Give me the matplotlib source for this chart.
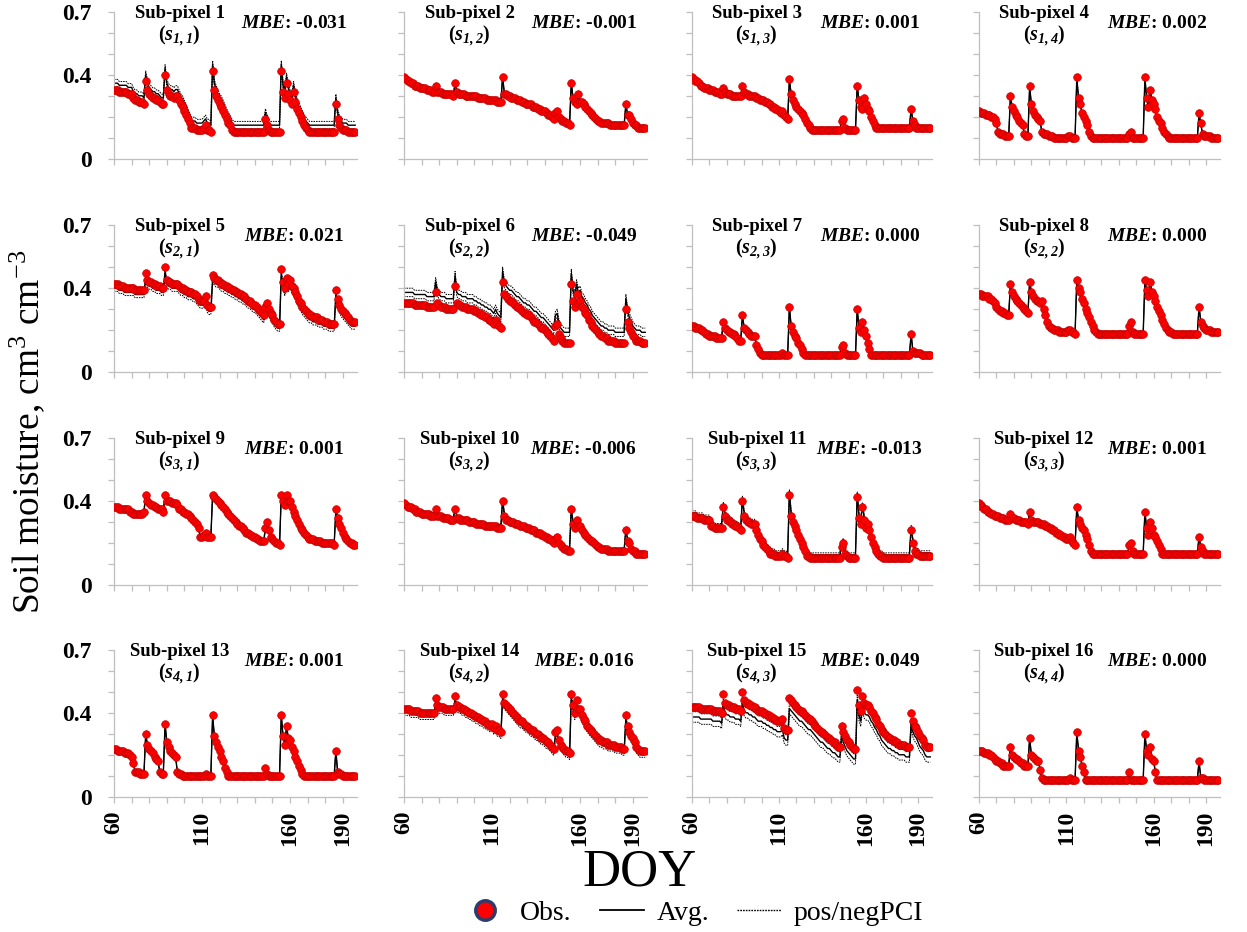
import numpy as np
import matplotlib
matplotlib.use("Agg")
import matplotlib.pyplot as plt
from matplotlib.lines import Line2D

plt.rcParams['font.family'] = ['Liberation Serif', 'DejaVu Serif']
plt.rcParams['mathtext.fontset'] = 'custom'
plt.rcParams['mathtext.rm'] = 'Liberation Serif'
plt.rcParams['mathtext.it'] = 'Liberation Serif:italic'
plt.rcParams['mathtext.bf'] = 'Liberation Serif:bold'
plt.rcParams['mathtext.bfit'] = 'Liberation Serif:italic:bold'

# ---------------- data (soil moisture, in units of 0.01 cm3 cm-3, daily from DOY 60) -------------
FIRST_DOY = 60

obs_01 = ([33, 33, 33, 32, 32, 32, 32, 32, 31, 31, 31] + [29, 28, 28, 27, 27, 27, 26] + [37] +
          [33, 31, 30, 29, 29, 28, 28, 27, 26, 26] + [40] + [33, 31, 30, 30, 29, 30, 30] +
          [28, 26, 25, 23, 21, 19, 17, 15, 15, 15, 14, 14, 14, 14, 15] + [16, 14, 14, 13] + [42] +
          [33, 30, 28, 26, 25, 23, 21, 19, 17, 16, 14, 13] + [13] * 17 + [19, 16, 14] + [13] * 6 + [42] +
          [32, 29, 36, 31, 28, 26, 32, 27] + [24, 22, 20, 18, 16, 15, 14, 13] + [13] * 14 + [26] +
          [19, 16, 15, 14, 14, 14, 13, 13, 13, 13, 13])
obs_02 = ([39, 38, 37, 37, 36, 36, 35, 35, 35, 34, 34] + [34, 34, 33, 33, 33, 32, 32] + [35] +
          [32, 32, 32, 31, 31, 31, 31, 31, 31, 30] + [36] + [32, 31, 31, 31, 31, 30, 30] +
          [30, 30, 30, 30, 30, 29, 29, 29, 29, 29, 28, 28, 28, 28, 28] + [28, 27, 27, 27] + [39] +
          [31, 31, 30, 30, 29, 29, 29, 28, 28, 28, 27, 27] +
          [26, 26, 26, 26, 25, 25, 25, 24, 24, 23, 23, 23, 22, 21, 21, 20, 19] + [22, 23, 20] +
          [19, 18, 18, 17, 17, 16] + [36] + [29, 27, 26, 31, 27, 27, 26, 25] + [24, 23, 22, 21, 20, 19, 18, 18] +
          [17, 17, 17, 17, 17, 16, 16, 16, 16, 16, 16, 16, 16, 16] + [26] + [21, 21, 19, 17, 16, 16, 15, 15, 15, 15, 15])
obs_03 = ([39, 38, 37, 37, 36, 35, 35, 34, 34, 34, 33] + [33, 33, 32, 32, 32, 31, 31] + [34] +
          [32, 31, 31, 31, 30, 30, 30, 30, 30, 30] + [35] + [32, 31, 31, 30, 30, 30, 30] +
          [29, 29, 28, 28, 28, 27, 27, 26, 26, 25, 25, 24, 24, 23, 22] + [23, 21, 20, 19] + [38] +
          [31, 28, 26, 25, 24, 23, 22, 21, 19, 17, 16, 15] + [14] * 17 + [18, 19, 15] + [14] * 6 + [35] +
          [28, 25, 24, 29, 26, 24, 23, 20] + [18, 16, 15, 15, 15, 15, 15, 15] + [15] * 14 + [24] +
          [18, 16, 15, 15, 15, 15, 15, 15, 15, 15, 15])
obs_04 = ([23, 22, 22, 22, 21, 21, 21, 20, 20, 19, 17] + [13, 12, 12, 12, 11, 11, 11] + [30] +
          [25, 23, 21, 20, 18, 17, 16, 12, 11, 11] + [35] + [26, 23, 21, 20, 19, 18, 13] +
          [12, 12, 12, 11, 11, 11, 10, 10, 10, 10, 10, 10, 10, 10, 11] + [11, 10, 10, 10] + [39] +
          [29, 26, 22, 20, 18, 16, 13, 11, 10, 10, 10, 10] + [10] * 17 + [12, 13, 10] + [10] * 6 + [39] +
          [29, 25, 33, 28, 26, 24, 20, 18] + [17, 15, 13, 12, 11, 10, 10, 10] + [10] * 14 + [22] +
          [17, 12, 11, 11, 11, 11, 10, 10, 10, 10, 10])
obs_05 = ([42, 42, 42, 41, 41, 41, 40, 40, 40, 40, 40] + [40, 39, 39, 39, 39, 39, 39] + [47] +
          [44, 43, 43, 42, 42, 41, 41, 41, 40, 40] + [50] + [44, 43, 43, 42, 42, 42, 42] +
          [41, 40, 40, 39, 39, 38, 38, 38, 37, 37, 36, 35, 34, 34, 34] + [36, 32, 31, 31] + [46] +
          [45, 44, 44, 43, 42, 42, 41, 41, 40, 40, 39, 39] +
          [38, 38, 37, 37, 36, 36, 35, 34, 34, 33, 32, 32, 31, 30, 29, 28, 27] + [31, 33, 30] +
          [28, 27, 25, 24, 23, 23] + [49] + [43, 40, 45, 42, 44, 41, 40, 38] + [36, 34, 33, 31, 30, 29, 28, 27] +
          [27, 26, 26, 26, 25, 25, 25, 24, 24, 24, 23, 23, 23, 23] + [39] + [35, 32, 30, 29, 28, 27, 26, 25, 24, 24, 24])
obs_06 = ([33, 33, 33, 33, 33, 33, 32, 32, 32, 32, 32] + [32, 32, 31, 31, 31, 31, 31] + [38] +
          [33, 32, 31, 31, 31, 30, 30, 30, 30, 30] + [41] + [33, 32, 32, 31, 31, 31, 30] +
          [30, 30, 30, 29, 29, 28, 28, 27, 27, 26, 26, 25, 25, 24, 23] + [25, 23, 22, 21] + [43] +
          [37, 36, 35, 34, 34, 33, 32, 31, 31, 30, 29, 28] +
          [28, 27, 27, 26, 25, 24, 24, 23, 22, 21, 21, 20, 19, 18, 17, 16, 15] + [22, 23, 18] +
          [16, 15, 14, 14, 14, 14] + [42] + [34, 31, 37, 33, 34, 31, 30, 28] + [27, 25, 24, 22, 21, 20, 19, 18] +
          [17, 17, 16, 16, 15, 15, 15, 15, 14, 14, 14, 14, 14, 14] + [30] + [24, 21, 19, 17, 16, 15, 15, 15, 14, 14, 14])
obs_07 = ([22, 22, 21, 21, 21, 20, 20, 19, 18, 18, 17] + [17, 17, 17, 16, 16, 16, 16] + [24] +
          [21, 20, 19, 19, 18, 18, 17, 16, 15, 15] + [27] + [21, 20, 19, 18, 17, 17, 17] +
          [13, 11, 9, 8, 8, 8, 8, 8, 8, 8, 8, 8, 8, 8, 8] + [9, 8, 8, 8] + [31] +
          [22, 19, 17, 16, 14, 13, 11, 9, 8, 8, 8, 8] + [8] * 17 + [12, 13, 9] + [8] * 6 + [30] +
          [21, 19, 24, 20, 17, 14, 11, 8] + [8] * 8 + [8] * 14 + [18] + [10, 9, 9, 9, 9, 8, 8, 8, 8, 8, 8])
obs_08 = ([37, 37, 36, 36, 36, 36, 35, 35, 34, 33, 31] + [30, 29, 29, 28, 28, 27, 27] + [42] +
          [38, 36, 35, 34, 33, 32, 31, 30, 29, 28] + [43] + [38, 36, 35, 34, 34, 33, 34] +
          [30, 27, 24, 22, 21, 21, 20, 20, 20, 19, 19, 19, 19, 19, 20] + [20, 19, 19, 18] + [44] +
          [40, 38, 35, 33, 30, 28, 26, 24, 22, 20, 19, 18] + [18] * 17 + [22, 24, 19] + [18] * 6 + [44] +
          [39, 36, 43, 38, 36, 34, 31, 29] + [27, 25, 23, 21, 20, 19, 19, 18] + [18] * 14 + [31] +
          [24, 22, 21, 20, 20, 20, 19, 19, 19, 19, 19])
obs_09 = ([37, 37, 37, 36, 36, 36, 36, 36, 36, 35, 35] + [34, 34, 34, 34, 34, 34, 35] + [43] +
          [40, 39, 38, 38, 37, 37, 36, 36, 36, 35] + [43] + [40, 40, 40, 39, 39, 39, 38] +
          [36, 36, 35, 35, 34, 34, 33, 32, 31, 30, 29, 27, 23, 23, 24] + [25, 23, 23, 23] + [43] +
          [42, 41, 40, 39, 38, 37, 36, 35, 34, 33, 32, 31] +
          [30, 29, 28, 28, 27, 26, 25, 25, 24, 24, 23, 23, 22, 22, 21, 21, 21] + [27, 30, 26] +
          [23, 22, 21, 20, 20, 19] + [43] + [40, 38, 43, 40, 40, 37, 35, 33] + [31, 29, 27, 26, 25, 24, 23, 22] +
          [22, 22, 21, 21, 21, 21, 20, 20, 20, 20, 20, 20, 20, 19] + [36] + [32, 29, 27, 25, 23, 22, 21, 20, 20, 19, 19])
obs_10 = ([39, 38, 37, 37, 37, 36, 36, 35, 35, 35, 34] + [34, 34, 34, 34, 33, 33, 33] + [36] +
          [33, 33, 33, 32, 32, 32, 32, 31, 31, 31] + [36] + [32, 32, 31, 31, 31, 31, 31] +
          [30, 30, 30, 30, 29, 29, 29, 29, 29, 28, 28, 28, 28, 28, 28] + [28, 27, 27, 27] + [40] +
          [33, 31, 31, 30, 30, 30, 29, 29, 29, 28, 28, 28] +
          [27, 27, 27, 26, 26, 26, 25, 25, 25, 24, 24, 23, 23, 22, 22, 21, 20] + [22, 23, 20] +
          [19, 18, 17, 17, 16, 16] + [36] + [29, 27, 31, 28, 28, 26, 25, 24] + [23, 22, 21, 21, 20, 19, 18, 18] +
          [17, 17, 17, 17, 16, 16, 16, 16, 16, 16, 16, 16, 16, 16] + [26] + [21, 20, 17, 16, 16, 15, 15, 15, 15, 15, 15])
obs_11 = ([33, 33, 33, 32, 32, 32, 32, 31, 31, 31, 31] + [28, 28, 27, 27, 27, 27, 27] + [37] +
          [33, 31, 31, 30, 29, 29, 28, 28, 27, 26] + [40] + [33, 31, 30, 30, 29, 29, 29] +
          [26, 24, 22, 21, 19, 18, 17, 16, 15, 15, 15, 14, 14, 14, 14] + [15, 14, 14, 13] + [43] +
          [33, 30, 28, 26, 24, 22, 20, 18, 16, 14, 14, 13] + [13] * 17 + [18, 20, 15] + [14, 13, 13, 13, 13, 13] +
          [42] + [32, 29, 37, 31, 27, 29, 26, 23] + [20, 18, 16, 15, 14, 14, 13, 13] + [13] * 14 + [26] +
          [20, 16, 15, 15, 14, 14, 14, 14, 14, 14, 14])
obs_12 = ([39, 38, 37, 36, 36, 35, 35, 34, 34, 33, 33] + [33, 32, 32, 32, 31, 31, 31] + [34] +
          [32, 32, 31, 31, 31, 30, 30, 30, 30, 29] + [35] + [31, 30, 30, 30, 30, 29, 29] +
          [29, 28, 28, 27, 27, 26, 26, 25, 25, 24, 24, 23, 23, 22, 22] + [23, 21, 20, 19] + [37] +
          [31, 29, 27, 26, 24, 22, 19, 16, 15, 15, 15, 15] + [15] * 17 + [19, 20, 16] + [15] * 6 + [35] +
          [27, 24, 30, 27, 24, 23, 21, 19] + [17, 15, 15, 15, 15, 15, 15, 15] + [15] * 14 + [23] +
          [18, 16, 15, 15, 15, 15, 15, 15, 15, 15, 15])
obs_13 = ([23, 23, 22, 22, 22, 22, 21, 21, 21, 20, 19] + [16, 12, 12, 12, 11, 11, 11] + [30] +
          [25, 23, 22, 21, 19, 18, 17, 12, 11, 11] + [35] + [26, 24, 22, 21, 20, 19, 12] +
          [11, 11, 10, 10, 10, 10, 10, 10, 10, 10, 10, 10, 10, 10, 10] + [11, 10, 10, 10] + [39] +
          [29, 26, 24, 22, 19, 17, 14, 12, 10, 10, 10, 10] + [10] * 17 + [14, 11, 10] + [10] * 6 + [39] +
          [29, 25, 34, 28, 27, 24, 22, 19] + [17, 15, 13, 11, 10, 10, 10, 10] + [10] * 14 + [22] +
          [12, 11, 11, 10, 10, 10, 10, 10, 10, 10, 10])
obs_14 = ([42, 42, 42, 42, 41, 41, 41, 41, 41, 40, 40] + [40, 40, 40, 40, 40, 40, 40] + [47] +
          [44, 43, 43, 43, 42, 42, 42, 42, 42, 42] + [48] + [44, 43, 43, 42, 42, 41, 41] +
          [40, 40, 39, 39, 38, 38, 37, 37, 36, 36, 35, 35, 34, 35, 33] + [34, 32, 32, 31] + [49] +
          [45, 44, 43, 42, 41, 40, 39, 38, 37, 36, 36, 35] +
          [34, 34, 33, 32, 32, 31, 30, 30, 29, 28, 28, 27, 26, 26, 25, 24, 23] + [31, 32, 27] +
          [25, 24, 23, 22, 22, 21] + [49] + [44, 40, 46, 42, 42, 39, 37, 36] + [34, 33, 32, 31, 30, 29, 28, 27] +
          [27, 26, 26, 26, 25, 25, 25, 25, 24, 24, 24, 24, 23, 23] + [39] + [34, 31, 29, 28, 26, 24, 23, 22, 22, 22, 22])
obs_15 = ([43, 43, 43, 43, 43, 42, 42, 42, 42, 42, 42] + [42, 41, 41, 41, 41, 41, 40] + [49] +
          [45, 44, 44, 43, 43, 43, 42, 42, 42, 41] + [50] + [46, 45, 45, 44, 44, 43, 43] +
          [42, 41, 41, 41, 40, 40, 39, 39, 38, 38, 37, 37, 36, 36, 36] + [37, 33, 32, 32] + [47] +
          [46, 45, 44, 43, 42, 41, 41, 40, 39, 38, 37, 37] +
          [36, 35, 34, 33, 32, 31, 31, 30, 29, 28, 28, 27, 26, 26, 25, 24, 24] + [34, 31, 29] +
          [27, 26, 25, 24, 23, 23] + [51] + [44, 41, 48, 45, 44, 44, 43, 41] + [40, 38, 37, 35, 34, 32, 31, 30] +
          [29, 28, 28, 27, 27, 26, 26, 25, 25, 25, 25, 24, 24, 24] + [40] + [36, 34, 33, 31, 29, 28, 27, 25, 24, 24, 24])
obs_16 = ([22, 22, 22, 21, 21, 21, 20, 20, 19, 18, 17] + [17, 16, 16, 15, 15, 15, 15] + [24] +
          [20, 19, 18, 18, 17, 16, 16, 15, 15, 15] + [28] + [20, 19, 18, 17, 17, 13, 9] +
          [8] * 15 + [9, 8, 8, 8] + [31] + [22, 19, 15, 12, 8, 8, 8, 8, 8, 8, 8, 8] + [8] * 17 + [12, 8, 8] +
          [8] * 6 + [30] + [22, 20, 24, 18, 17, 12, 8, 8] + [8] * 8 + [8] * 14 + [17] +
          [9, 9, 8, 8, 8, 8, 8, 8, 8, 8, 8])

obs_series = [obs_01, obs_02, obs_03, obs_04, obs_05, obs_06, obs_07, obs_08,
              obs_09, obs_10, obs_11, obs_12, obs_13, obs_14, obs_15, obs_16]

mbe_labels = ['-0.031', '-0.001', '0.001', '0.002', '0.021', '-0.049', '0.000', '0.000',
              '0.001', '-0.006', '-0.013', '0.001', '0.001', '0.016', '0.049', '0.000']
# half width of the prediction confidence interval around the average
pci_half = [0.018, 0.003, 0.003, 0.003, 0.015, 0.020, 0.003, 0.003,
            0.003, 0.005, 0.010, 0.003, 0.003, 0.015, 0.025, 0.003]
sub_idx = ['1,1', '1,2', '1,3', '1,4', '2,1', '2,2', '2,3', '2,2',
           '3,1', '3,2', '3,3', '3,3', '4,1', '4,2', '4,3', '4,4']

x_ticks = list(range(60, 191, 10))
x_tick_labels = ['60' if t == 60 else '110' if t == 110 else '160' if t == 160 else '190' if t == 190 else ''
                 for t in x_ticks]
y_ticks = [0, 0.1, 0.2, 0.3, 0.4, 0.5, 0.6, 0.7]
y_tick_labels = ['0', '', '', '', '0.4', '', '', '0.7']

# ---------------- figure ----------------
W, H = 1247, 932
fig = plt.figure(figsize=(W / 100, H / 100), dpi=100)

col_left = [114, 404, 692, 979]
col_width = [243, 243, 240, 241]
row_bottom = [159, 372, 585, 797]
ax_h = 147

grey = '#bfbfbf'
for i in range(16):
    r, c = divmod(i, 4)
    ax = fig.add_axes([col_left[c] / W, 1 - row_bottom[r] / H, col_width[c] / W, ax_h / H])
    o = np.array(obs_series[i]) / 100.0
    days = FIRST_DOY + np.arange(len(o))
    mbe = float(mbe_labels[i])
    avg = o - mbe
    w = pci_half[i]
    ax.plot(days, avg + w, color='k', lw=0.7, ls=(0, (1.6, 1.0)), zorder=2)
    ax.plot(days, avg - w, color='k', lw=0.7, ls=(0, (1.6, 1.0)), zorder=2)
    ax.plot(days, avg, color='k', lw=1.0, zorder=2)
    ax.plot(days, o, ls='none', marker='o', ms=5.5, mfc='#ff0000', mec='#c00000', mew=0.5, zorder=3)

    ax.set_xlim(60, 198)
    ax.set_ylim(0, 0.7)
    for s in ['top', 'right']:
        ax.spines[s].set_visible(False)
    for s in ['left', 'bottom']:
        ax.spines[s].set_color(grey)
        ax.spines[s].set_linewidth(0.9)
    ax.set_xticks(x_ticks)
    ax.set_yticks(y_ticks)
    ax.tick_params(color=grey, length=4, width=0.9, labelsize=17, pad=6)
    if r == 3:
        ax.set_xticklabels(x_tick_labels, rotation=90, fontweight='bold')
    else:
        ax.set_xticklabels([])
    if c == 0:
        ax.set_yticklabels(y_tick_labels, fontweight='bold')
        ax.tick_params(axis='y', pad=12)
    else:
        ax.set_yticklabels([])

    ax.text(0.27, 0.99, f'Sub-pixel {i + 1}', transform=ax.transAxes, ha='center', va='center',
            fontsize=13.5, fontweight='bold')
    ax.text(0.27, 0.835, r'$\mathbf{(}\mathbfit{s}_{\mathbfit{' + sub_idx[i] + r'}}\mathbf{)}$',
            transform=ax.transAxes, ha='center', va='center', fontsize=14.5)
    ax.text(0.74, 0.925, r'$\mathbfit{MBE}$: ' + mbe_labels[i], transform=ax.transAxes,
            ha='center', va='center', fontsize=14, fontweight='bold')

fig.text(0.022, 1 - 432 / H, r'Soil moisture, cm$^{3}$ cm$^{-3}$', rotation=90,
         ha='center', va='center', fontsize=27)
fig.text(0.513, 1 - 872 / H, 'DOY', ha='center', va='center', fontsize=38)

handles = [Line2D([], [], ls='none', marker='o', ms=14, mfc='#ff0000', mec='#2b3d6e', mew=2.5),
           Line2D([], [], color='k', lw=1.3),
           Line2D([], [], color='k', lw=1.0, ls=(0, (1.2, 0.8)))]
fig.legend(handles, ['Obs.', 'Avg.', 'pos/negPCI'], loc='center', bbox_to_anchor=(0.556, 1 - 913 / H),
           ncol=3, frameon=False, fontsize=20, handlelength=1.6, columnspacing=1.0, handletextpad=0.45)

fig.savefig('out.png', dpi=100)
